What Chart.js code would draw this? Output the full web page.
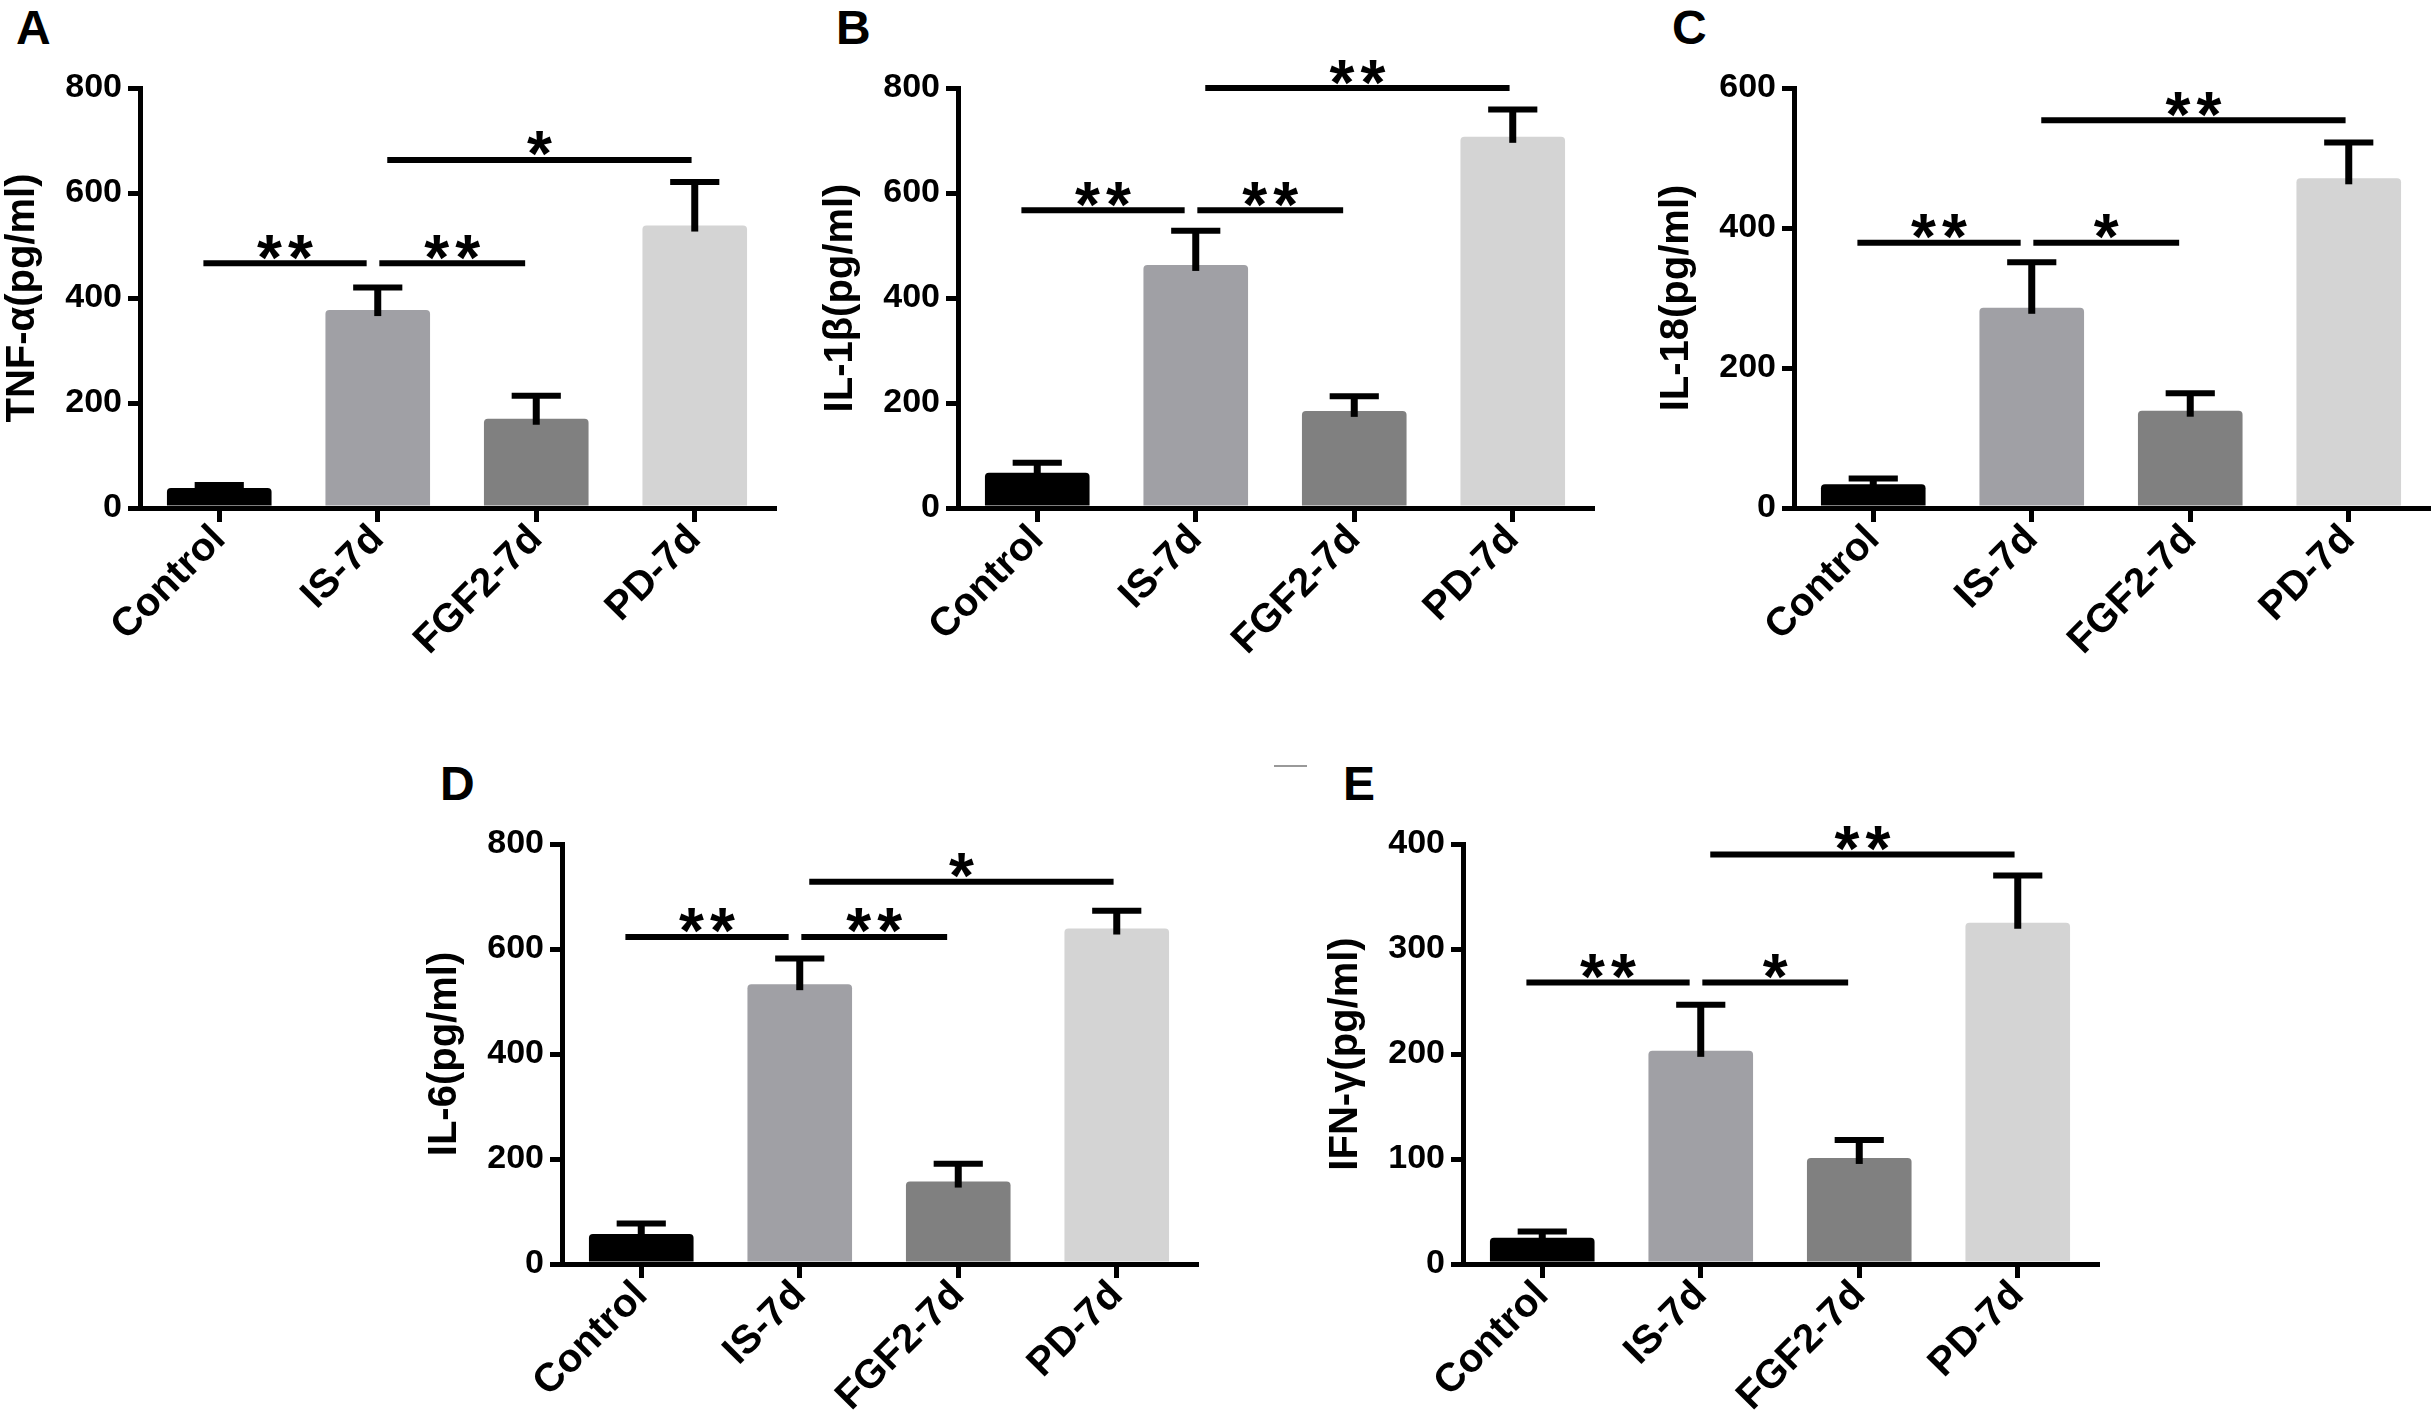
<!DOCTYPE html>
<html>
<head>
<meta charset="utf-8">
<script src="https://cdn.jsdelivr.net/npm/chart.js@4.4.0/dist/chart.umd.min.js"></script>
<style>
  body {
    margin: 0;
    background: #fff;
    width: 2433px;
    height: 1425px;
    position: relative;
    overflow: hidden;
    font-family: "Liberation Sans", Arial, sans-serif;
  }
  .panel { position: absolute; }
  .letter {
    position: absolute;
    font-weight: bold;
    font-size: 48px;
    line-height: 1;
    color: #000;
  }
  .stray {
    position: absolute;
    left: 1274px;
    top: 765px;
    width: 33px;
    height: 2px;
    background: #999;
  }
</style>
</head>
<body>
<div class="letter" style="left:16px;top:4px">A</div>
<div class="letter" style="left:836px;top:4px">B</div>
<div class="letter" style="left:1672px;top:4px">C</div>
<div class="letter" style="left:440px;top:760px">D</div>
<div class="letter" style="left:1343px;top:760px">E</div>
<div class="stray"></div>

<canvas id="chartA" class="panel"></canvas>
<canvas id="chartB" class="panel"></canvas>
<canvas id="chartC" class="panel"></canvas>
<canvas id="chartD" class="panel"></canvas>
<canvas id="chartE" class="panel"></canvas>

<script>
// Groups shared by all five panels
const groups = ["Control", "IS-7d", "FGF2-7d", "PD-7d"];

// Mean values and upper error (pg/ml)
const tnfMean = [38, 377, 170, 538];
const tnfErr = [6, 43, 44, 83];
const il1bMean = [67, 463, 185, 707];
const il1bErr = [19, 65, 28, 52];
const il18Mean = [34, 286, 139, 471];
const il18Err = [8, 65, 25, 51];
const il6Mean = [57, 533, 157, 639];
const il6Err = [20, 49, 34, 34];
const ifngMean = [25, 203, 101, 325];
const ifngErr = [6, 44, 17, 45];

// Significance brackets: [from group, to group, height (pg/ml), label]
const tnfSig = [[0, 1, 466, "**"], [1, 2, 466, "**"], [1, 3, 663, "*"]];
const il1bSig = [[0, 1, 567, "**"], [1, 2, 567, "**"], [1, 3, 800, "**"]];
const il18Sig = [[0, 1, 379, "**"], [1, 2, 379, "*"], [1, 3, 554, "**"]];
const il6Sig = [[0, 1, 623, "**"], [1, 2, 623, "**"], [1, 3, 728, "*"]];
const ifngSig = [[0, 1, 268, "**"], [1, 2, 268, "*"], [1, 3, 390, "**"]];

// Y axis ranges: [min, max, step]
const tnfTicks = [0, 800, 200];
const il1bTicks = [0, 800, 200];
const il18Ticks = [0, 600, 200];
const il6Ticks = [0, 800, 200];
const ifngTicks = [0, 400, 100];

const FONT = "'Liberation Sans', Arial, sans-serif";
const barColors = ["#000000", "#a0a0a5", "#808080", "#d4d4d4"];

// Panel layout
const AXIS_W = 150;
const PLOT_W = 634;
const ZERO_Y = 508;

// Draws error bars and significance brackets
const extrasPlugin = {
  id: "extras",
  afterDatasetsDraw(chart, args, opts) {
    const ctx = chart.ctx;
    const xs = chart.scales.x;
    const ys = chart.scales.y;
    const meta = chart.getDatasetMeta(0);
    ctx.save();
    ctx.strokeStyle = "#000";
    ctx.fillStyle = "#000";
    ctx.lineCap = "butt";

    // error bars (upper only)
    opts.errors.forEach(function (err, i) {
      const bar = meta.data[i];
      const mean = chart.data.datasets[0].data[i];
      const yTop = ys.getPixelForValue(mean + err);
      const yBase = ys.getPixelForValue(mean);
      const half = bar.width * 0.235;
      ctx.lineWidth = 7;
      ctx.beginPath();
      ctx.moveTo(bar.x, yBase + 6);
      ctx.lineTo(bar.x, yTop);
      ctx.stroke();
      ctx.lineWidth = 6;
      ctx.beginPath();
      ctx.moveTo(bar.x - half, yTop);
      ctx.lineTo(bar.x + half, yTop);
      ctx.stroke();
    });

    // brackets with stars
    ctx.font = "bold 64px " + FONT;
    ctx.textAlign = "center";
    ctx.textBaseline = "alphabetic";
    opts.sig.forEach(function (s) {
      const from = s[0], to = s[1];
      const wide = to - from > 1;
      const startOff = from === 0 ? -0.1 : (wide ? 0.06 : 0.01);
      const endOff = wide ? -0.02 : -0.07;
      const x1 = xs.getPixelForValue(from + startOff);
      const x2 = xs.getPixelForValue(to + endOff);
      const y = ys.getPixelForValue(s[2]);
      ctx.lineWidth = 6;
      ctx.beginPath();
      ctx.moveTo(x1, y);
      ctx.lineTo(x2, y);
      ctx.stroke();

      const m = ctx.measureText("*");
      const base = y - 16 + (m.actualBoundingBoxAscent - m.actualBoundingBoxDescent) / 2;
      const mid = (x1 + x2) / 2;
      const n = s[3].length;
      const gap = 31;
      for (let k = 0; k < n; k++) {
        ctx.fillText("*", mid + (k - (n - 1) / 2) * gap, base);
      }
    });
    ctx.restore();
  },
};

function makePanel(id, axisX, row, means, errs, sig, ticks, title) {
  const canvas = document.getElementById(id);
  const top = row === 0 ? 0 : 756;
  const height = row === 0 ? 710 : 669;
  const width = AXIS_W + PLOT_W + 6;
  canvas.style.left = axisX - AXIS_W + "px";
  canvas.style.top = top + "px";
  canvas.style.width = width + "px";
  canvas.style.height = height + "px";
  canvas.width = width;
  canvas.height = height;

  new Chart(canvas.getContext("2d"), {
    type: "bar",
    data: {
      labels: groups,
      datasets: [
        {
          data: means,
          backgroundColor: barColors,
          borderWidth: 0,
          borderRadius: 4,
          borderSkipped: "start",
          barPercentage: 0.66,
          categoryPercentage: 1,
        },
      ],
    },
    options: {
      responsive: false,
      animation: false,
      devicePixelRatio: 1,
      layout: { padding: { top: 88, left: 0, right: 6, bottom: 0 } },
      plugins: {
        legend: { display: false },
        tooltip: { enabled: false },
        extras: { errors: errs, sig: sig },
      },
      scales: {
        x: {
          z: 1,
          offset: true,
          ticks: {
            color: "#000",
            font: { family: FONT, size: 40, weight: "bold" },
            maxRotation: 45,
            minRotation: 45,
            autoSkip: false,
            padding: -6,
          },
          grid: {
            display: true,
            drawOnChartArea: false,
            drawTicks: true,
            tickLength: 14,
            lineWidth: 5,
            color: "#000",
            offset: false,
          },
          border: { display: true, width: 5, color: "#000" },
          afterFit: function (scale) {
            scale.height = height - ZERO_Y;
          },
        },
        y: {
          min: ticks[0],
          max: ticks[1],
          ticks: {
            stepSize: ticks[2],
            color: "#000",
            font: { family: FONT, size: 34, weight: "bold" },
            padding: 6,
          },
          grid: {
            display: true,
            drawOnChartArea: false,
            drawTicks: true,
            tickLength: 12,
            lineWidth: 5,
            color: "#000",
          },
          border: { display: true, width: 5, color: "#000" },
          title: {
            display: true,
            text: title,
            color: "#000",
            font: { family: FONT, size: 40, weight: "bold" },
            padding: { top: 9, bottom: 0 },
          },
          afterFit: function (scale) {
            scale.width = AXIS_W;
          },
        },
      },
    },
    plugins: [extrasPlugin],
  });
}

makePanel("chartA", 140, 0, tnfMean, tnfErr, tnfSig, tnfTicks, "TNF-α(pg/ml)");
makePanel("chartB", 958, 0, il1bMean, il1bErr, il1bSig, il1bTicks, "IL-1β(pg/ml)");
makePanel("chartC", 1794, 0, il18Mean, il18Err, il18Sig, il18Ticks, "IL-18(pg/ml)");
makePanel("chartD", 562, 1, il6Mean, il6Err, il6Sig, il6Ticks, "IL-6(pg/ml)");
makePanel("chartE", 1463, 1, ifngMean, ifngErr, ifngSig, ifngTicks, "IFN-γ(pg/ml)");
</script>
</body>
</html>
